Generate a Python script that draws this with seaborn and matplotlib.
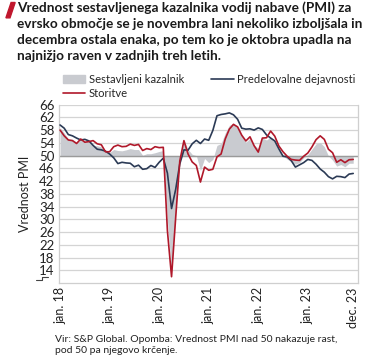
import numpy as np
import pandas as pd
import matplotlib
matplotlib.use('Agg')
import matplotlib.pyplot as plt
from matplotlib.patches import Polygon, Patch
from matplotlib.lines import Line2D
import seaborn as sns

# PMI values, Jan 2018 - Dec 2023 (monthly)
composite = [58.8, 57.1, 55.2, 55.1, 54.1, 54.9, 54.3, 54.5, 53.1, 53.1, 52.7, 51.1,
             51.0, 51.9, 51.6, 51.5, 51.8, 52.2, 51.9, 51.9, 50.1, 50.6, 50.6, 50.9,
             51.3, 51.6, 29.7, 13.6, 31.9, 48.5, 54.9, 51.9, 50.4, 50.0, 45.3, 49.1,
             47.8, 48.8, 53.2, 53.8, 57.1, 59.5, 60.2, 59.0, 56.2, 54.2, 55.4, 53.3,
             52.3, 55.5, 54.9, 55.8, 54.8, 52.0, 49.9, 48.9, 48.1, 47.3, 47.8, 49.3,
             50.3, 52.0, 53.7, 54.1, 52.8, 49.9, 48.6, 46.7, 47.2, 46.5, 47.6, 47.6]
manufacturing = [59.6, 58.6, 56.6, 56.2, 55.5, 54.9, 55.1, 54.6, 53.2, 52.0, 51.8, 51.4,
                 50.5, 49.3, 47.5, 47.9, 47.7, 47.6, 46.5, 47.0, 45.7, 45.9, 46.9, 46.3,
                 47.9, 49.2, 44.5, 33.4, 39.4, 47.4, 51.8, 51.7, 53.7, 54.8, 53.8, 55.2,
                 54.8, 57.9, 62.5, 62.9, 63.1, 63.4, 62.8, 61.4, 58.6, 58.3, 58.4, 58.0,
                 58.7, 58.2, 56.5, 55.5, 54.6, 52.1, 49.8, 49.6, 48.4, 46.4, 47.1, 47.8,
                 48.8, 48.5, 47.3, 45.8, 44.8, 43.4, 42.7, 43.5, 43.4, 43.1, 44.2, 44.4]
services = [58.0, 56.2, 54.9, 54.7, 53.8, 55.2, 54.2, 54.4, 54.7, 53.7, 53.4, 51.2,
            51.2, 52.8, 53.3, 52.8, 52.9, 53.6, 53.2, 53.5, 51.6, 52.2, 51.9, 52.8,
            52.5, 52.6, 26.4, 12.0, 30.5, 48.3, 54.7, 50.5, 48.0, 46.9, 41.7, 46.4,
            45.4, 45.7, 49.6, 50.5, 55.2, 58.3, 59.8, 59.0, 56.4, 54.6, 55.9, 53.1,
            51.1, 55.5, 55.6, 57.7, 56.1, 53.0, 51.2, 49.8, 48.8, 48.6, 48.5, 49.8,
            50.8, 52.7, 55.0, 56.2, 55.1, 52.0, 50.9, 47.9, 48.7, 47.8, 48.7, 48.8]
tick_pos = [0, 12, 24, 36, 48, 60, 71]
tick_labels = ['jan. 18', 'jan. 19', 'jan. 20', 'jan. 21', 'jan. 22', 'jan. 23', 'dec. 23']
y_ticks = list(range(14, 67, 4))

df = pd.DataFrame({'mesec': np.arange(len(composite)),
                   'Sestavljeni kazalnik': composite,
                   'Predelovalne dejavnosti': manufacturing,
                   'Storitve': services})

sns.set_style('white')
plt.rcParams['font.family'] = ['Lato', 'DejaVu Sans']

fig = plt.figure(figsize=(3.70, 3.57), dpi=100)
ax = fig.add_axes([0.159, 0.207, 0.809, 0.500])

gray = '#c9cbd0'
navy = '#2b3a55'
red = '#b0182a'

ax.fill_between(df['mesec'], 50, df['Sestavljeni kazalnik'], color=gray, lw=0, zorder=2)
sns.lineplot(data=df, x='mesec', y='Predelovalne dejavnosti', color=navy, lw=1.2, ax=ax, zorder=3)
sns.lineplot(data=df, x='mesec', y='Storitve', color=red, lw=1.2, ax=ax, zorder=4)
ax.axhline(50, color='#9a9a9a', lw=1.0, zorder=2.5)

ax.set_ylim(10, 66)
ax.set_xlim(-0.3, 72.2)
ax.set_yticks(y_ticks)
ax.set_yticklabels([str(v) for v in y_ticks], fontsize=9.5, color='#222222')
ax.set_xticks(tick_pos)
ax.set_xticklabels(tick_labels, rotation=90, fontsize=9, color='#222222')
ax.tick_params(axis='both', length=0, pad=3)
ax.grid(axis='y', color='#d4d4d4', lw=0.9)
ax.set_axisbelow(True)
ax.spines['top'].set_visible(False)
for s in ['left', 'right', 'bottom']:
    ax.spines[s].set_color('#cfcfcf')
    ax.spines[s].set_linewidth(0.9)
ax.set_xlabel('')
ax.set_ylabel('Vrednost PMI', fontsize=9, color='#222222', labelpad=6)

# axis break mark
ax.plot([-0.075, -0.055, -0.055, -0.035], [0.015, 0.015, 0.035, 0.035],
        transform=ax.transAxes, color='#444444', lw=0.8, clip_on=False)

# legend
h1 = Patch(color=gray, label='Sestavljeni kazalnik')
h2 = Line2D([], [], color=navy, lw=1.2, label='Predelovalne dejavnosti')
h3 = Line2D([], [], color=red, lw=1.2, label='Storitve')
fig.legend(handles=[h1, h3, h2], loc='upper left', bbox_to_anchor=(0.158, 0.805),
           ncol=2, frameon=False, fontsize=8.1, handlelength=2.0, handletextpad=0.3,
           columnspacing=2.4, labelspacing=0.25, borderaxespad=0)

# title with red marker
fig.patches.append(Polygon([[0.016, 0.950], [0.030, 0.993], [0.041, 0.993], [0.027, 0.950]],
                           closed=True, transform=fig.transFigure, color='#c0172d'))
fig.text(0.046, 0.997, 'Vrednost sestavljenega kazalnika vodij nabave (PMI) za\n'
         'evrsko območje se je novembra lani nekoliko izboljšala in\n'
         'decembra ostala enaka, po tem ko je oktobra upadla na\n'
         'najnižjo raven v zadnjih treh letih.',
         ha='left', va='top', fontsize=9.8, fontweight='bold', color='#1a1a1a',
         linespacing=1.42)

fig.text(0.148, 0.063, 'Vir: S&P Global. Opomba: Vrednost PMI nad 50 nakazuje rast,\n'
         'pod 50 pa njegovo krčenje.', ha='left', va='top', fontsize=7.5,
         color='#222222', linespacing=1.4)

plt.savefig('out.png', dpi=100)
